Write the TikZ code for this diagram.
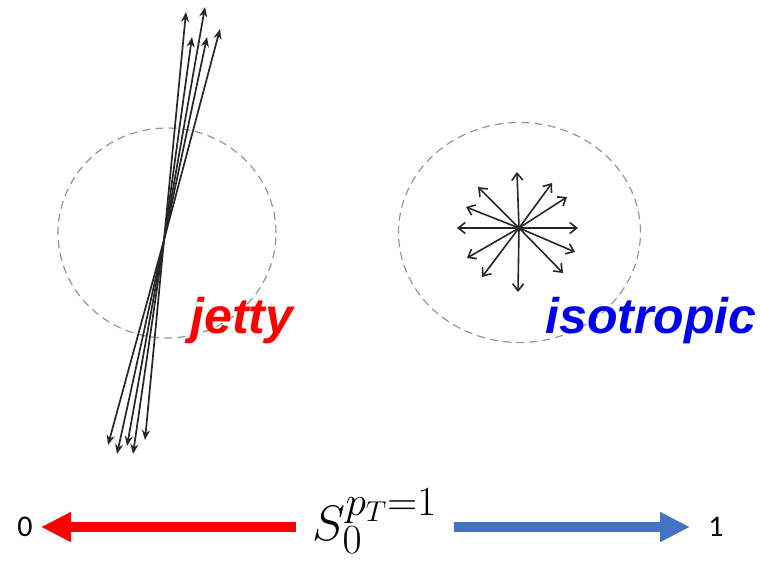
\documentclass[tikz,border=0pt]{standalone}
\usepackage{fontspec}
\setmainfont{Carlito}
\newfontfamily\labelfont{Liberation Sans}
\usetikzlibrary{arrows.meta,positioning,calc}
\definecolor{jetred}{RGB}{255,0,0}
\definecolor{isoblue}{RGB}{0,0,238}
\definecolor{barblue}{RGB}{68,114,196}
\definecolor{ringgray}{RGB}{150,150,150}

\begin{document}
\begin{tikzpicture}[
    x=0.5pt, y=-0.5pt,
    ring/.style={draw=ringgray, line width=0.6pt, dash pattern=on 4pt off 2.6pt},
    jet_arrow/.style={-{Stealth[length=5pt,width=4pt]}, line width=0.85pt, black!85},
    iso_arrow/.style={-{Straight Barb[length=3.5pt,width=5.5pt]}, line width=0.8pt, black!85},
    bar_arrow/.style={-{Triangle[length=15pt,width=14pt]}, line width=5pt},
    tag/.style={font=\labelfont\bfseries\itshape\fontsize{25}{30}\selectfont, inner sep=0pt},
    num/.style={font=\fontsize{15}{18}\selectfont, inner sep=0pt}
]
\useasboundingbox (0,0) rectangle (760,564);

% --- jetty event ---
\coordinate (jc) at (164,240);
\draw[ring] (167,233) ellipse [x radius=54.5pt, y radius=52.5pt];
\foreach \tip in {(186,12),(205,7),(192,37),(207,37),(220,29),
                  (108,445),(117,454),(127,446),(133,454),(145,440)}
    \draw[jet_arrow] (jc) -- \tip;
\node[tag, text=jetred, anchor=base west] (jetty_label) at (190,333) {jetty};

% --- isotropic event ---
\coordinate (ic) at (519,228);
\draw[ring] (519.5,232.5) ellipse [x radius=60.5pt, y radius=55pt];
\foreach \tip in {(517,172),(518,292),(457,228),(578,228),(552,183),(567,197),
                  (478,187),(466,207),(575,252),(563,273),(467,258),(482,277)}
    \draw[iso_arrow] (ic) -- \tip;
\node[tag, text=isoblue, anchor=base west] (iso_label) at (545,333) {isotropic};

% --- scale ---
\node[num] (zero) at (25,527) {0};
\node[num] (one) at (716,527) {1};
\node[font=\fontsize{28}{32}\selectfont, inner sep=0pt] (sval) at (375,521) {$S_0^{p_T=1}$};

\draw[bar_arrow, jetred, shorten <=8pt, shorten >=4pt] (sval.west |- zero) -- (zero.east);
\draw[bar_arrow, barblue, shorten <=8pt, shorten >=9pt] (sval.east |- one) -- (one.west);

\end{tikzpicture}
\end{document}
